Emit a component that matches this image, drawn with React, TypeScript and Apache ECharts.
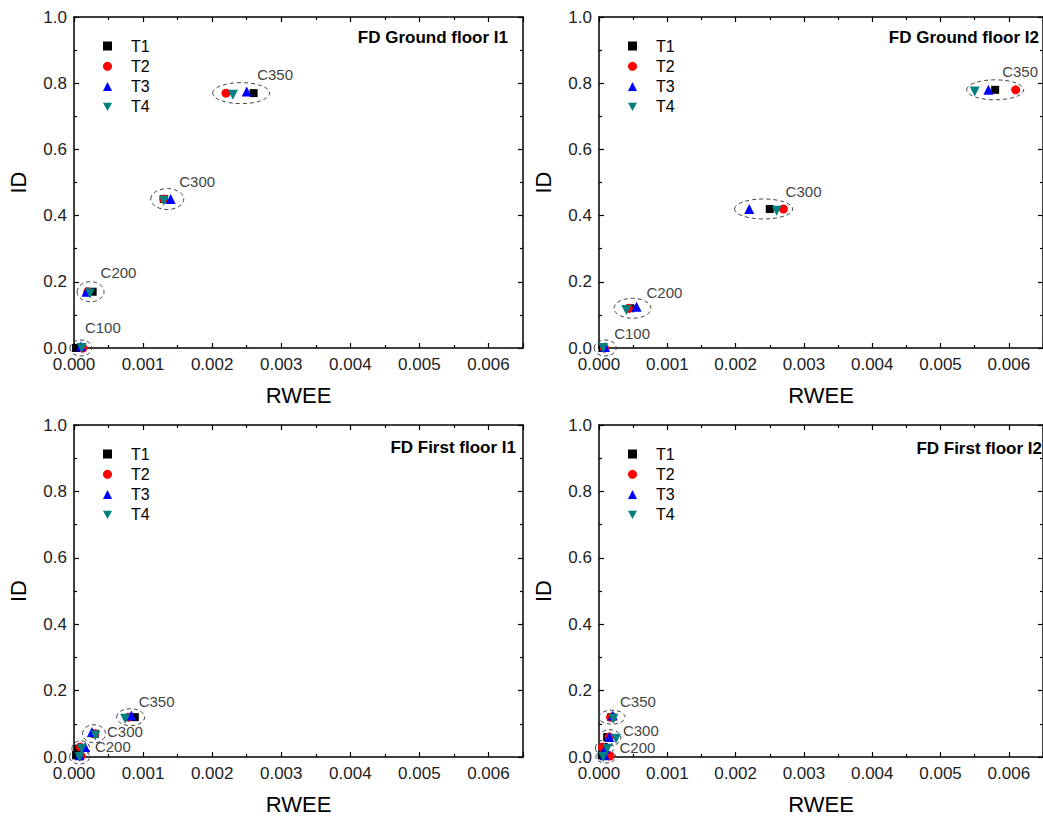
import React, { useEffect, useRef } from "react";
import * as echarts from "echarts";

// ---------- DATA ----------
const SERIES_NAMES = ["T1", "T2", "T3", "T4"];
const CLUSTERS = ["C100", "C200", "C300", "C350"];
const X_TICKS = [0, 0.001, 0.002, 0.003, 0.004, 0.005, 0.006];
const Y_TICKS = [0, 0.2, 0.4, 0.6, 0.8, 1.0];
const TITLES = ["FD Ground floor I1", "FD Ground floor I2", "FD First floor I1", "FD First floor I2"];

// rows: T1..T4, columns: C100, C200, C300, C350
const groundI1_RWEE = [
  [0.00003, 0.00027, 0.0013, 0.0026],
  [0.00013, 0.0002, 0.0013, 0.0022],
  [0.0001, 0.00018, 0.0014, 0.0025],
  [0.00011, 0.00023, 0.0013, 0.0023],
];
const groundI1_ID = [
  [0.0, 0.17, 0.45, 0.77],
  [0.0, 0.17, 0.45, 0.77],
  [0.005, 0.17, 0.45, 0.775],
  [0.0, 0.165, 0.445, 0.765],
];
const groundI2_RWEE = [
  [0.00005, 0.00046, 0.0025, 0.0058],
  [0.00008, 0.00043, 0.0027, 0.0061],
  [0.00009, 0.00055, 0.0022, 0.0057],
  [0.00006, 0.0004, 0.0026, 0.0055],
];
const groundI2_ID = [
  [0.0, 0.12, 0.42, 0.78],
  [0.0, 0.12, 0.42, 0.78],
  [0.003, 0.125, 0.42, 0.78],
  [0.0, 0.115, 0.415, 0.775],
];
const firstI1_RWEE = [
  [0.00003, 0.00006, 0.0003, 0.00088],
  [0.0001, 0.00009, 0.0003, 0.00079],
  [0.00008, 0.00016, 0.00026, 0.00083],
  [0.00008, 0.00011, 0.00031, 0.00074],
];
const firstI1_ID = [
  [0.005, 0.025, 0.07, 0.12],
  [0.003, 0.03, 0.07, 0.12],
  [0.005, 0.03, 0.075, 0.125],
  [0.0, 0.025, 0.065, 0.115],
];
const firstI2_RWEE = [
  [0.00004, 0.00007, 0.00012, 0.00018],
  [0.00016, 0.00005, 0.00015, 0.00017],
  [0.00008, 0.00009, 0.00015, 0.0002],
  [0.00006, 0.00012, 0.00025, 0.00021],
];
const firstI2_ID = [
  [0.005, 0.03, 0.06, 0.12],
  [0.003, 0.03, 0.06, 0.12],
  [0.005, 0.025, 0.06, 0.125],
  [0.0, 0.025, 0.055, 0.115],
];

// cluster (ellipse) centres in data units, C100..C350
const groundI1_centerRWEE = [0.0001, 0.00024, 0.00135, 0.00242];
const groundI1_centerID = [0.0, 0.17, 0.45, 0.77];
const groundI2_centerRWEE = [0.00009, 0.00049, 0.00241, 0.0058];
const groundI2_centerID = [0.0, 0.12, 0.42, 0.78];
const firstI1_centerRWEE = [0.00008, 0.0001, 0.00029, 0.00082];
const firstI1_centerID = [0.0, 0.025, 0.07, 0.12];
const firstI2_centerRWEE = [0.0001, 0.00008, 0.00016, 0.00019];
const firstI2_centerID = [0.0, 0.027, 0.058, 0.12];

// ---------- STYLE ----------
const COLORS = ["#000000", "#ff0000", "#0000ff", "#008080"];
const SYMBOLS = ["rect", "circle", "triangle", "triangle"];
const ROTATE = [0, 0, 0, 180];
const SYMBOL_SIZE = [8, 9, 10, 10];
const LEGEND_ICONS = ["rect", "circle", "triangle", "path://M0,0L10,0L5,9Z"];
const FONT = "'Liberation Sans', Arial, sans-serif";

const GRIDS = [
  { left: 74, top: 17, width: 449, height: 331 },
  { left: 599, top: 17, width: 449, height: 331 },
  { left: 74, top: 425, width: 449, height: 332 },
  { left: 599, top: 425, width: 449, height: 332 },
];
const TITLE_POS = [
  [508, 37],
  [1039, 37],
  [516, 447],
  [1042, 448],
];
// ellipse radii [rx, ry] and label offsets [dx, dy] in px, label null = hidden
const ELLIPSE_R = [
  [[11, 8], [13.5, 10], [16.5, 10.5], [28.5, 10.5]],
  [[11, 8], [18.5, 10], [29, 10], [28.5, 10]],
  [[10, 7], [9, 8], [11.5, 9], [14, 8.5]],
  [[10, 6], [9, 8], [11, 8], [13, 7]],
];
const LABEL_OFF = [
  [[4, -21], [10, -19], [12, -18], [16, -19]],
  [[9, -15], [14, -16], [22, -17], [7, -18]],
  [null, [14, -2], [13, -2], [8, -16]],
  [null, [15, -1], [13, -7], [8, -16]],
];

const PANEL_RWEE = [groundI1_RWEE, groundI2_RWEE, firstI1_RWEE, firstI2_RWEE];
const PANEL_ID = [groundI1_ID, groundI2_ID, firstI1_ID, firstI2_ID];
const PANEL_CX = [groundI1_centerRWEE, groundI2_centerRWEE, firstI1_centerRWEE, firstI2_centerRWEE];
const PANEL_CY = [groundI1_centerID, groundI2_centerID, firstI1_centerID, firstI2_centerID];

function buildOption() {
  const xMin = X_TICKS[0];
  const xInt = X_TICKS[1] - X_TICKS[0];
  const yInt = Y_TICKS[1] - Y_TICKS[0];
  const xAxes: any[] = [];
  const yAxes: any[] = [];
  const series: any[] = [];
  const legends: any[] = [];
  const graphics: any[] = [];

  const axisLine = { show: true, onZero: false, lineStyle: { color: "#000", width: 1.5 } };
  const tick = { show: true, inside: true, length: 5, lineStyle: { color: "#000", width: 1.2 } };
  const minor = { show: true, splitNumber: 2, length: 3, lineStyle: { color: "#000", width: 1.2 } };

  GRIDS.forEach((g, p) => {
    xAxes.push({
      type: "value",
      gridIndex: p,
      position: "bottom",
      min: xMin,
      max: 0.0065,
      interval: xInt,
      name: "RWEE",
      nameLocation: "middle",
      nameGap: 36,
      nameTextStyle: { fontSize: 22, color: "#000", fontFamily: FONT },
      axisLine,
      axisTick: tick,
      minorTick: minor,
      splitLine: { show: false },
      axisLabel: {
        fontSize: 17,
        color: "#222",
        fontFamily: FONT,
        margin: 8,
        showMaxLabel: false,
        formatter: (v: number) => (v > 0.00601 ? "" : v.toFixed(3)),
      },
    });
    xAxes.push({
      type: "value",
      gridIndex: p,
      position: "top",
      min: xMin,
      max: 0.0065,
      interval: xInt,
      axisLine,
      axisTick: tick,
      minorTick: minor,
      splitLine: { show: false },
      axisLabel: { show: false },
    });
    yAxes.push({
      type: "value",
      gridIndex: p,
      position: "left",
      min: Y_TICKS[0],
      max: Y_TICKS[Y_TICKS.length - 1],
      interval: yInt,
      name: "ID",
      nameLocation: "middle",
      nameGap: 45,
      nameTextStyle: { fontSize: 22, color: "#000", fontFamily: FONT },
      axisLine,
      axisTick: tick,
      minorTick: minor,
      splitLine: { show: false },
      axisLabel: {
        fontSize: 17,
        lineHeight: 14,
        color: "#222",
        fontFamily: FONT,
        margin: 7,
        formatter: (v: number) => v.toFixed(1),
      },
    });
    yAxes.push({
      type: "value",
      gridIndex: p,
      position: "right",
      min: Y_TICKS[0],
      max: Y_TICKS[Y_TICKS.length - 1],
      interval: yInt,
      axisLine,
      axisTick: tick,
      minorTick: minor,
      splitLine: { show: false },
      axisLabel: { show: false },
    });

    // ellipses + cluster labels
    const ellData = CLUSTERS.map((c, k) => [PANEL_CX[p][k], PANEL_CY[p][k], k]);
    series.push({
      type: "custom",
      name: "clusters" + p,
      xAxisIndex: p * 2,
      yAxisIndex: p * 2,
      clip: false,
      silent: true,
      z: 1,
      data: ellData,
      renderItem: (params: any, api: any) => {
        const k = api.value(2);
        const c = api.coord([api.value(0), api.value(1)]);
        const [rx, ry] = ELLIPSE_R[p][k];
        const children: any[] = [
          {
            type: "ellipse",
            shape: { cx: c[0], cy: c[1], rx, ry },
            style: { fill: "none", stroke: "#444", lineWidth: 1, lineDash: [4, 3] },
          },
        ];
        const off = LABEL_OFF[p][k];
        if (off) {
          children.push({
            type: "text",
            x: c[0] + off[0],
            y: c[1] + off[1],
            style: {
              text: CLUSTERS[k],
              fill: "#444",
              font: `15px ${FONT}`,
              verticalAlign: "middle",
              align: "left",
            },
          });
        }
        return { type: "group", children };
      },
    });

    SERIES_NAMES.forEach((name, s) => {
      series.push({
        type: "scatter",
        name,
        xAxisIndex: p * 2,
        yAxisIndex: p * 2,
        symbol: SYMBOLS[s],
        symbolRotate: ROTATE[s],
        symbolSize: SYMBOL_SIZE[s],
        itemStyle: { color: COLORS[s], opacity: 1 },
        z: 2 + s,
        data: CLUSTERS.map((_, k) => [PANEL_RWEE[p][s][k], PANEL_ID[p][s][k]]),
      });
    });

    legends.push({
      orient: "vertical",
      left: g.left + 29,
      top: g.top + 21,
      padding: 0,
      itemWidth: 9,
      itemHeight: 9,
      itemGap: 4.3,
      selectedMode: false,
      data: SERIES_NAMES.map((n, s) => ({
        name: n,
        icon: LEGEND_ICONS[s],
        itemStyle: { color: COLORS[s] },
      })),
      textStyle: { fontSize: 16, color: "#000", fontFamily: FONT, padding: [0, 0, 0, 14] },
    });

    graphics.push({
      type: "text",
      x: TITLE_POS[p][0],
      y: TITLE_POS[p][1],
      style: {
        text: TITLES[p],
        fill: "#000",
        font: `bold 17px ${FONT}`,
        align: "right",
        verticalAlign: "middle",
      },
    });
  });

  return {
    animation: false,
    backgroundColor: "#fff",
    grid: GRIDS,
    xAxis: xAxes,
    yAxis: yAxes,
    legend: legends,
    series,
    graphic: graphics,
  };
}

export default function App() {
  const ref = useRef<HTMLDivElement>(null);
  useEffect(() => {
    if (!ref.current) return;
    const chart = echarts.init(ref.current, undefined, { renderer: "svg" });
    chart.setOption(buildOption() as any);
    return () => chart.dispose();
  }, []);
  return (
    <div
      ref={ref}
      style={{ position: "absolute", left: 0, top: 0, width: 1043, height: 819, background: "#fff" }}
    />
  );
}
